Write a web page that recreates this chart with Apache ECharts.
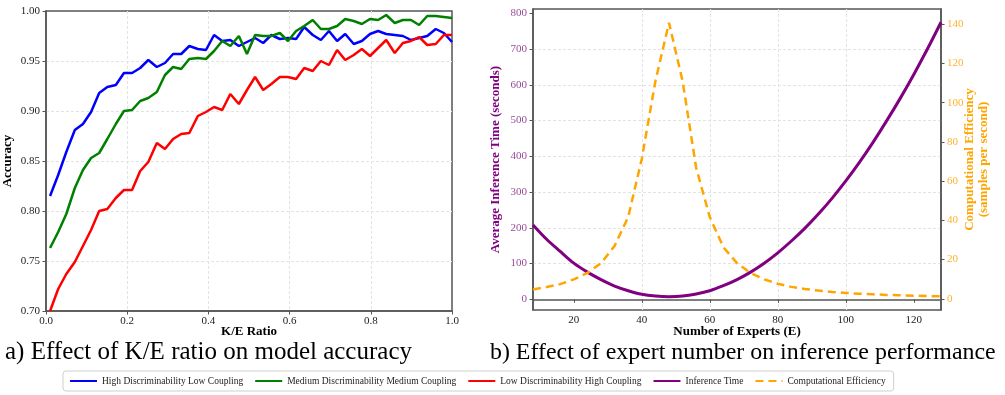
<!DOCTYPE html>
<html>
<head>
<meta charset="utf-8">
<script src="https://cdn.jsdelivr.net/npm/echarts@6/dist/echarts.min.js"></script>
<style>
  html, body { margin: 0; padding: 0; background: #fff; }
  #chart { width: 1005px; height: 395px; }
</style>
</head>
<body>
<div id="chart"></div>
<script>
// K/E ratio samples (panel a)
const keRatio = [0.010, 0.030, 0.050, 0.071, 0.091, 0.111, 0.131, 0.151, 0.172, 0.192,
  0.212, 0.232, 0.252, 0.273, 0.293, 0.313, 0.333, 0.353, 0.374, 0.394,
  0.414, 0.434, 0.454, 0.475, 0.495, 0.515, 0.535, 0.555, 0.576, 0.596,
  0.616, 0.636, 0.657, 0.677, 0.697, 0.717, 0.737, 0.758, 0.778, 0.798,
  0.818, 0.838, 0.859, 0.879, 0.899, 0.919, 0.939, 0.960, 0.980, 1.000]

const highLow = [0.815, 0.836, 0.859, 0.881, 0.887, 0.899, 0.918, 0.924, 0.926, 0.938,
  0.938, 0.943, 0.951, 0.944, 0.948, 0.957, 0.957, 0.965, 0.962, 0.961,
  0.976, 0.970, 0.971, 0.965, 0.969, 0.973, 0.968, 0.976, 0.972, 0.973,
  0.972, 0.984, 0.976, 0.971, 0.980, 0.970, 0.977, 0.967, 0.970, 0.977,
  0.980, 0.977, 0.976, 0.975, 0.971, 0.973, 0.975, 0.982, 0.978, 0.969]

const mediumMedium = [0.763, 0.779, 0.797, 0.823, 0.841, 0.853, 0.858, 0.872, 0.887, 0.900,
  0.901, 0.910, 0.913, 0.919, 0.936, 0.944, 0.942, 0.952, 0.953, 0.952,
  0.960, 0.970, 0.965, 0.975, 0.957, 0.976, 0.975, 0.975, 0.978, 0.970,
  0.980, 0.985, 0.991, 0.982, 0.982, 0.985, 0.992, 0.990, 0.987, 0.992,
  0.991, 0.996, 0.988, 0.991, 0.991, 0.986, 0.995, 0.995, 0.994, 0.993]

const lowHigh = [0.700, 0.722, 0.737, 0.749, 0.765, 0.781, 0.800, 0.802, 0.813, 0.821,
  0.821, 0.840, 0.849, 0.868, 0.862, 0.872, 0.877, 0.878, 0.895, 0.899,
  0.904, 0.901, 0.917, 0.907, 0.921, 0.934, 0.921, 0.927, 0.934, 0.934,
  0.932, 0.943, 0.940, 0.950, 0.946, 0.961, 0.951, 0.956, 0.962, 0.955,
  0.963, 0.971, 0.958, 0.968, 0.970, 0.974, 0.966, 0.967, 0.976, 0.976]

// expert counts (panel b)
const experts = [8, 12, 16, 20, 24, 28, 32, 36, 40, 44, 48, 52, 56, 60, 64, 68,
  72, 76, 80, 84, 88, 92, 96, 100, 104, 108, 112, 116, 120, 124, 128]
const inferenceTime = [208, 168, 134, 101, 76, 55, 37, 24, 14, 9, 7.1, 9, 15, 24, 38, 55,
  76, 101, 130, 163, 199, 239, 283, 331, 383, 439, 499, 562, 629, 700, 775]
const efficiency = [4.8, 6.0, 7.5, 9.9, 13.2, 18.2, 27.0, 41.7, 71.4, 111, 140.8, 111, 66.7, 41.7, 26.3, 18.2,
  13.2, 9.9, 7.7, 6.1, 5.0, 4.2, 3.5, 3.0, 2.6, 2.3, 2.0, 1.8, 1.6, 1.4, 1.3]

const xTicksB = [20, 40, 60, 80, 100, 120]
const yTicksTime = [0, 100, 200, 300, 400, 500, 600, 700, 800]
const yTicksEff = [0, 20, 40, 60, 80, 100, 120, 140]

const FONT = '"Liberation Serif", "DejaVu Serif", serif'
const pair = (xs, ys) => xs.map((x, i) => [x, ys[i]])

const spine = { show: true, lineStyle: { color: '#555', width: 1.5 } }
const tick = { show: true, inside: false, length: 3.5, lineStyle: { color: '#555', width: 1 } }
const gridLine = { show: true, showMinLine: false, showMaxLine: false, lineStyle: { color: '#e3e3e3', width: 1, type: [3, 2] } }
const label = (color) => ({ color, fontFamily: FONT, fontSize: 11 })
const nameStyle = (color) => ({ color, fontFamily: FONT, fontSize: 13, fontWeight: 'bold' })

const chart = echarts.init(document.getElementById('chart'))

chart.setOption({
  animation: false,
  textStyle: { fontFamily: FONT },
  grid: [
    { left: 44, right: 553, top: 11, bottom: 84, show: true, borderColor: '#555', borderWidth: 1.5 },
    { left: 533, right: 64, top: 9, bottom: 85, show: true, borderColor: '#555', borderWidth: 1.5 },
  ],
  xAxis: [
    {
      gridIndex: 0, type: 'value', min: 0, max: 1, interval: 0.2,
      name: 'K/E Ratio', nameLocation: 'middle', nameGap: 14, nameMoveOverlap: false,
      nameTextStyle: nameStyle('#000'),
      axisLine: spine, axisTick: tick, splitLine: gridLine,
      axisLabel: { ...label('#222'), margin: 5, formatter: v => v.toFixed(1) },
    },
    {
      gridIndex: 1, type: 'value', min: 8, max: 128,
      name: 'Number of Experts (E)', nameLocation: 'middle', nameGap: 15, nameMoveOverlap: false,
      nameTextStyle: nameStyle('#000'),
      axisLine: spine,
      axisTick: { ...tick, customValues: xTicksB },
      splitLine: gridLine,
      axisLabel: { ...label('#222'), margin: 5, customValues: xTicksB },
    },
  ],
  yAxis: [
    {
      gridIndex: 0, type: 'value', min: 0.7, max: 1.0, interval: 0.05,
      name: 'Accuracy', nameLocation: 'middle', nameGap: 32, nameTextStyle: nameStyle('#000'),
      axisLine: spine, axisTick: tick, splitLine: gridLine,
      axisLabel: { ...label('#222'), margin: 6, formatter: v => v.toFixed(2) },
    },
    {
      gridIndex: 1, type: 'value', min: -30, max: 812,
      name: 'Average Inference Time (seconds)', nameLocation: 'middle', nameGap: 31,
      nameTextStyle: nameStyle('#800080'),
      axisLine: spine,
      axisTick: { ...tick, customValues: yTicksTime },
      splitLine: gridLine,
      axisLabel: { ...label('#9a4a9a'), margin: 6, customValues: yTicksTime },
    },
    {
      gridIndex: 1, type: 'value', position: 'right', min: -5.7, max: 147.8,
      name: 'Computational Efficiency\n(samples per second)', nameLocation: 'middle', nameGap: 22,
      nameRotate: 90, nameMoveOverlap: false,
      nameTextStyle: { ...nameStyle('#ffa500'), lineHeight: 14 },
      axisLine: spine,
      axisTick: { ...tick, customValues: yTicksEff },
      splitLine: { show: false },
      axisLabel: { ...label('#ffb030'), margin: 6, customValues: yTicksEff },
    },
  ],
  legend: {
    left: 63, top: 371,
    itemWidth: 27, itemHeight: 10, itemGap: 11,
    padding: [5, 8, 5, 6],
    borderColor: '#cfcfcf', borderWidth: 1, borderRadius: 3,
    itemStyle: { opacity: 0 },
    textStyle: { color: '#222', fontFamily: FONT, fontSize: 9.5 },
    data: ['High Discriminability Low Coupling', 'Medium Discriminability Medium Coupling',
      'Low Discriminability High Coupling', 'Inference Time', 'Computational Efficiency'],
  },
  graphic: [
    { type: 'text', left: 5, top: 340, style: { text: 'a) Effect of K/E ratio on model accuracy', fontFamily: FONT, fontSize: 25, fill: '#000' } },
    { type: 'text', left: 490, top: 341, style: { text: 'b) Effect of expert number on inference performance', fontFamily: FONT, fontSize: 23.9, fill: '#000' } },
  ],
  series: [
    {
      name: 'High Discriminability Low Coupling', type: 'line', xAxisIndex: 0, yAxisIndex: 0,
      data: pair(keRatio, highLow), symbol: 'none',
      lineStyle: { color: '#0000ff', width: 2.5 }, itemStyle: { color: '#0000ff' },
    },
    {
      name: 'Medium Discriminability Medium Coupling', type: 'line', xAxisIndex: 0, yAxisIndex: 0,
      data: pair(keRatio, mediumMedium), symbol: 'none',
      lineStyle: { color: '#008000', width: 2.5 }, itemStyle: { color: '#008000' },
    },
    {
      name: 'Low Discriminability High Coupling', type: 'line', xAxisIndex: 0, yAxisIndex: 0,
      data: pair(keRatio, lowHigh), symbol: 'none',
      lineStyle: { color: '#ff0000', width: 2.5 }, itemStyle: { color: '#ff0000' },
    },
    {
      name: 'Inference Time', type: 'line', xAxisIndex: 1, yAxisIndex: 1,
      data: pair(experts, inferenceTime), symbol: 'none', smooth: 0.3,
      lineStyle: { color: '#800080', width: 3 }, itemStyle: { color: '#800080' },
    },
    {
      name: 'Computational Efficiency', type: 'line', xAxisIndex: 1, yAxisIndex: 2,
      data: pair(experts, efficiency), symbol: 'none',
      lineStyle: { color: '#ffa500', width: 2.5, type: [8, 5] }, itemStyle: { color: '#ffa500' },
    },
  ],
})
</script>
</body>
</html>
